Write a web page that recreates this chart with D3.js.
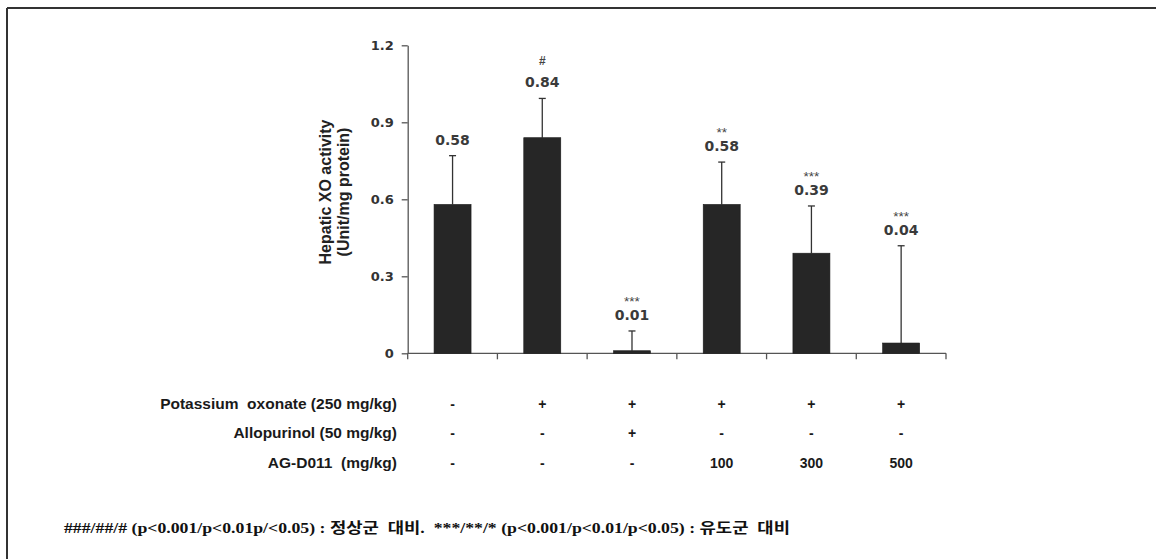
<!DOCTYPE html>
<html>
<head>
<meta charset="utf-8">
<script src="https://cdn.jsdelivr.net/npm/d3@7"></script>
<style>
  body { margin: 0; background: #fff; }
  svg { display: block; }
</style>
</head>
<body>
<svg id="chart" width="1156" height="559"></svg>
<script>
// Treatment groups (one bar each)
const groups = ["normal", "PO", "PO+allopurinol", "PO+AG100", "PO+AG300", "PO+AG500"];
// Mean hepatic XO activity (Unit/mg protein)
const means = [0.58, 0.84, 0.01, 0.58, 0.39, 0.04];
// Upper error bar length (SD)
const errors = [0.19, 0.153, 0.077, 0.165, 0.184, 0.379];
const valueLabels = ["0.58", "0.84", "0.01", "0.58", "0.39", "0.04"];
const significance = ["", "#", "***", "**", "***", "***"];
const yTicks = [0, 0.3, 0.6, 0.9, 1.2];

// Treatment table under the chart
const rowLabels = ["Potassium  oxonate (250 mg/kg)", "Allopurinol (50 mg/kg)", "AG-D011  (mg/kg)"];
const potassiumRow = ["-", "+", "+", "+", "+", "+"];
const allopurinolRow = ["-", "-", "+", "-", "-", "-"];
const agRow = ["-", "-", "-", "100", "300", "500"];
const footnote = "###/##/# (p<0.001/p<0.01p/<0.05) : 정상군  대비.  ***/**/* (p<0.001/p<0.01/p<0.05) : 유도군  대비";

const svg = d3.select("#chart");

// frame lines (top and left)
svg.append("line").attr("x1", 7).attr("x2", 1156).attr("y1", 8).attr("y2", 8)
  .attr("stroke", "#333").attr("stroke-width", 2);
svg.append("line").attr("x1", 7).attr("x2", 7).attr("y1", 8).attr("y2", 559)
  .attr("stroke", "#333").attr("stroke-width", 2);

const x = d3.scaleBand().domain(groups).range([407.7, 946]).padding(0);
const y = d3.scaleLinear().domain([0, 1.2]).range([353.3, 45.3]);
const barW = 37;
const axisColor = "#555";

// y axis
const yAxis = svg.append("g")
  .attr("transform", `translate(${x.range()[0]},0)`)
  .call(d3.axisLeft(y).tickValues(yTicks).tickSize(6).tickSizeOuter(0).tickPadding(8)
    .tickFormat(d => d === 0 ? "0" : d3.format(".1f")(d)));
yAxis.select(".domain").attr("stroke", axisColor).attr("stroke-width", 1.3);
yAxis.selectAll(".tick line").attr("stroke", axisColor).attr("stroke-width", 1.3);
yAxis.selectAll(".tick text")
  .attr("font-family", "'DejaVu Sans', sans-serif")
  .attr("font-weight", "bold").attr("font-size", 13).attr("fill", "#333");

// x axis line with ticks at group boundaries
const bounds = groups.map(g => x(g)).concat([x.range()[1]]);
svg.append("line")
  .attr("x1", x.range()[0]).attr("x2", x.range()[1])
  .attr("y1", y(0)).attr("y2", y(0))
  .attr("stroke", axisColor).attr("stroke-width", 1.3);
svg.append("g").selectAll("line").data(bounds).join("line")
  .attr("x1", d => d).attr("x2", d => d)
  .attr("y1", y(0)).attr("y2", y(0) + 6)
  .attr("stroke", axisColor).attr("stroke-width", 1.3);

// error bars (upper only)
const eb = svg.append("g").attr("stroke", "#333").attr("stroke-width", 1.3);
groups.forEach((g, i) => {
  const cx = x(g) + x.bandwidth() / 2;
  eb.append("line").attr("x1", cx).attr("x2", cx)
    .attr("y1", y(means[i])).attr("y2", y(means[i] + errors[i]));
  eb.append("line").attr("x1", cx - 3.5).attr("x2", cx + 3.5)
    .attr("y1", y(means[i] + errors[i])).attr("y2", y(means[i] + errors[i]));
});

// bars
svg.append("g").selectAll("rect").data(groups).join("rect")
  .attr("x", g => x(g) + x.bandwidth() / 2 - barW / 2)
  .attr("width", barW)
  .attr("y", (g, i) => y(means[i]))
  .attr("height", (g, i) => y(0) - y(means[i]))
  .attr("fill", "#262626").attr("stroke", "#1a1a1a").attr("stroke-width", 0.6);

// value labels and significance marks
groups.forEach((g, i) => {
  const cx = x(g) + x.bandwidth() / 2;
  const vb = y(means[i] + errors[i]) - 11;
  svg.append("text").attr("x", cx).attr("y", vb)
    .attr("text-anchor", "middle")
    .attr("font-family", "'DejaVu Sans', sans-serif").attr("font-weight", "bold")
    .attr("font-size", 14).attr("fill", "#3a3a3a")
    .text(valueLabels[i]);
  if (significance[i]) {
    const isHash = significance[i][0] === "#";
    svg.append("text").attr("x", cx).attr("y", vb - (isHash ? 22 : 14))
      .attr("text-anchor", "middle")
      .attr("font-family", "'Liberation Sans', Arial, sans-serif")
      .attr("font-weight", isHash ? "bold" : "normal")
      .attr("font-size", isHash ? 12 : 13.5).attr("fill", "#444")
      .text(significance[i]);
  }
});

// y axis title
const yTitle = svg.append("text")
  .attr("transform", `translate(330.7,192) rotate(-90)`)
  .attr("text-anchor", "middle")
  .attr("font-family", "'Liberation Sans', Arial, sans-serif")
  .attr("font-weight", "bold").attr("font-size", 16).attr("fill", "#222");
yTitle.append("tspan").attr("x", 0).attr("y", 0).text("Hepatic XO activity");
yTitle.append("tspan").attr("x", 0).attr("y", 18).text("(Unit/mg protein)");

// treatment table
const rows = [potassiumRow, allopurinolRow, agRow];
const rowY = [409, 438, 468];
rows.forEach((row, r) => {
  svg.append("text").attr("x", 397).attr("y", rowY[r])
    .attr("text-anchor", "end")
    .attr("font-family", "'Liberation Sans', Arial, sans-serif")
    .attr("font-weight", "bold").attr("font-size", 15.5).attr("fill", "#1a1a1a")
    .attr("xml:space", "preserve")
    .text(rowLabels[r]);
  svg.append("g").selectAll("text").data(row).join("text")
    .attr("x", (d, i) => x(groups[i]) + x.bandwidth() / 2)
    .attr("y", rowY[r])
    .attr("text-anchor", "middle")
    .attr("font-family", "'Liberation Sans', Arial, sans-serif")
    .attr("font-weight", "bold").attr("font-size", 14).attr("fill", "#1a1a1a")
    .text(d => d);
});

// footnote
svg.append("text").attr("x", 64).attr("y", 533)
  .attr("font-family", "'Liberation Serif', 'Noto Sans CJK KR', serif")
  .attr("font-weight", "bold").attr("font-size", 15).attr("fill", "#111")
  .attr("xml:space", "preserve")
  .attr("textLength", 726).attr("lengthAdjust", "spacingAndGlyphs")
  .text(footnote);
</script>
</body>
</html>
